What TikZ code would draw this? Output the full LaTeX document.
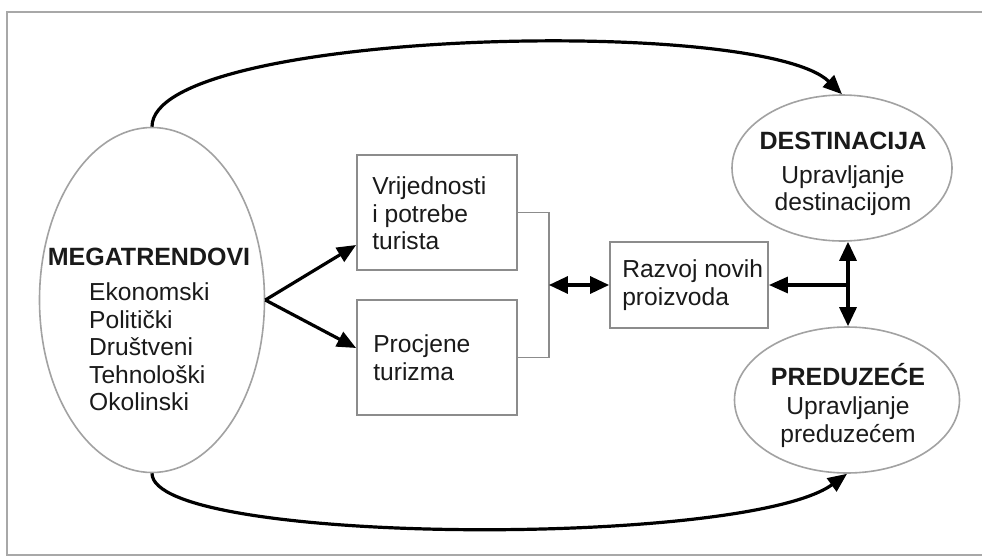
\documentclass[tikz,border=0pt]{standalone}
\usepackage{fontspec}
\setmainfont{Liberation Sans}
\usetikzlibrary{shapes.geometric,arrows.meta,calc}
\definecolor{edgegray}{HTML}{A2A2A2}
\definecolor{boxgray}{HTML}{8C8C8C}
\definecolor{framegray}{HTML}{A8A8A8}
\definecolor{inkblack}{HTML}{1A1A1A}
\begin{document}
\begin{tikzpicture}[x=1pt,y=-1pt,
  oval/.style={ellipse, draw=edgegray, line width=1.6pt, inner sep=0pt},
  stepbox/.style={rectangle, draw=boxgray, line width=1.8pt, inner sep=0pt},
  txt/.style={font=\fontsize{24.6}{27.5}\selectfont, inner sep=0pt, text=inkblack},
  ttl/.style={font=\fontsize{25}{27.5}\selectfont\bfseries, inner sep=0pt, text=inkblack},
  arr/.style={line width=3.2pt, -{Triangle[length=19pt,width=16pt]}},
  dblarr/.style={line width=3.2pt, {Triangle[length=19pt,width=17pt]}-{Triangle[length=19pt,width=17pt]}},
  bracket/.style={draw=boxgray, line width=1.6pt}]
\useasboundingbox (0,0) rectangle (982,557);
\fill[white] (0,0) rectangle (982,557);
% frame
\draw[framegray, line width=2.5pt] (995,12) -- (7,12) -- (7,555) -- (995,555);

% ellipses
\node[oval, minimum width=225pt, minimum height=345pt] (mega) at (152,300) {};
\node[oval, minimum width=220pt, minimum height=146pt] (dest) at (842,168) {};
\node[oval, minimum width=225pt, minimum height=146pt] (pred) at (847,400) {};

% boxes
\node[stepbox, minimum width=160pt, minimum height=115pt] (box1) at (437,212.5) {};
\node[stepbox, minimum width=160pt, minimum height=115pt] (box2) at (437,357.5) {};
\node[stepbox, minimum width=158pt, minimum height=86pt] (razvoj) at (689,285) {};

% texts
\node[ttl] (megat) at (149,257) {MEGATRENDOVI};
\node[txt, align=left, anchor=west] (megal) at (89,347) {Ekonomski\\Politički\\Društveni\\Tehnološki\\Okolinski};
\node[txt, align=left, anchor=west] (box1t) at ([xshift=16pt,yshift=-1pt]box1.west) {Vrijednosti\\i potrebe\\turista};
\node[txt, align=left, anchor=west] (box2t) at ([xshift=17pt]box2.west) {Procjene\\turizma};
\node[txt, align=left, anchor=west] (razvojt) at ([xshift=13pt]razvoj.west) {Razvoj novih\\proizvoda};
\node[txt, align=center] (destt) at (843,174) {\textbf{\fontsize{25}{27.5}\selectfont DESTINACIJA}\\[6pt]Upravljanje\\destinacijom};
\node[txt, align=center] (predt) at (848,405) {\textbf{\fontsize{25}{27.5}\selectfont PREDUZEĆE}\\[2pt]Upravljanje\\preduzećem};

% arcs
\draw[arr] (mega.north) .. controls (152,30) and (760,15) .. (dest.north);
\draw[arr] (mega.south) .. controls (152,545) and (745,548) .. (pred.south);

% megatrend arrows
\draw[arr] (mega.east) -- ([yshift=-32.5pt]box1.west);
\draw[arr] (mega.east) -- ([yshift=9.5pt]box2.west);

% bracket
\draw[bracket] (box1.east) -- ++(31,0) coordinate (brtop) |- (box2.east);
\coordinate (brk) at (brtop |- razvoj.west);
\draw[dblarr] (brk) -- (razvoj.west);

% right junction
\coordinate (jn) at (848,285);
\draw[dblarr] (jn |- dest.south) -- (jn |- pred.north);
\draw[arr] (jn) -- (razvoj.east);
\end{tikzpicture}
\end{document}
